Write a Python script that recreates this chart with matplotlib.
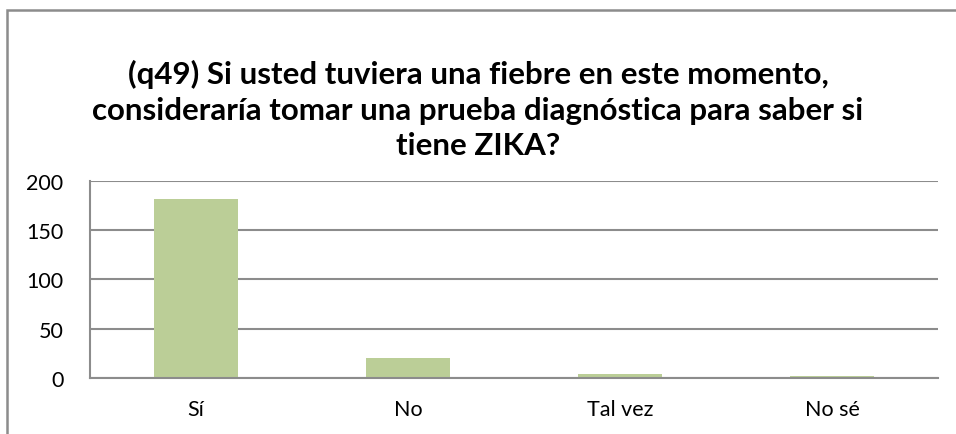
import matplotlib
matplotlib.use("Agg")
import matplotlib.pyplot as plt
from matplotlib.patches import Rectangle

categories = ["Sí", "No", "Tal vez", "No sé"]
counts = [181, 20, 4, 2]
y_ticks = [0, 50, 100, 150, 200]
title = ("(q49) Si usted tuviera una fiebre en este momento,\n"
         "consideraría tomar una prueba diagnóstica para saber si\n"
         "tiene ZIKA?")

plt.rcParams['font.family'] = ['Lato', 'DejaVu Sans']

W, H = 956, 435
fig = plt.figure(figsize=(W / 100, H / 100), dpi=100)

# outer chart frame (right/bottom edges fall outside the picture)
fig.patches.append(Rectangle((7 / W, -0.05), 1.1, 1 - 10.5 / H - (-0.05),
                             transform=fig.transFigure, fill=False,
                             edgecolor="#8c8c8c", linewidth=1.8))

ax = fig.add_axes([90 / W, 1 - 379 / H, (938 - 90) / W, (379 - 181.7) / H])
x = range(len(categories))
ax.bar(x, counts, width=0.4, color="#bbce97", zorder=2)
ax.set_xlim(-0.5, len(categories) - 0.5)
ax.set_ylim(0, 200)
ax.set_yticks(y_ticks)
ax.set_xticks(list(x))
ax.set_xticklabels(categories)
ax.yaxis.grid(True, color="#8c8c8c", linewidth=1.5, zorder=0)
ax.tick_params(axis="both", length=0, labelsize=15.5, colors="black")
ax.tick_params(axis="x", pad=15)
ax.tick_params(axis="y", pad=19)
for lab in ax.get_yticklabels():
    lab.set_horizontalalignment("right")
for side in ["top", "right"]:
    ax.spines[side].set_visible(False)
for side in ["left", "bottom"]:
    ax.spines[side].set_color("#8c8c8c")
    ax.spines[side].set_linewidth(1.5)

fig.text(478 / W, 1 - 110 / H, title, ha="center", va="center",
         fontsize=22.5, fontweight="bold", linespacing=1.34)

fig.savefig("out.png", dpi=100)
